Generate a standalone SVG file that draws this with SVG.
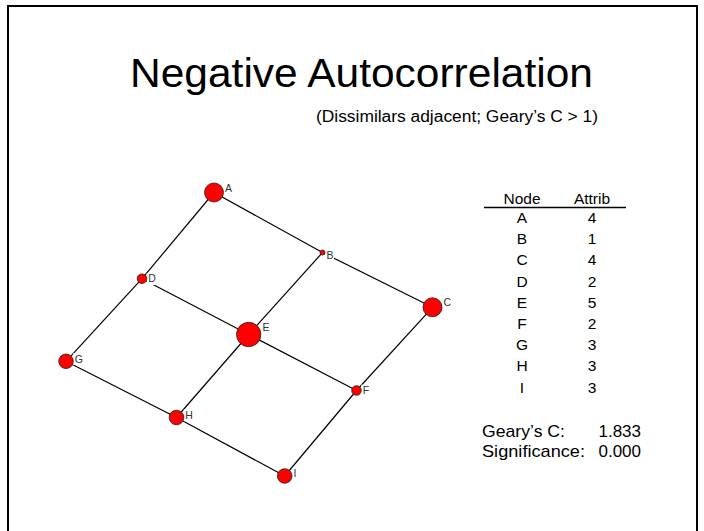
<svg xmlns="http://www.w3.org/2000/svg" width="704" height="531" viewBox="0 0 704 531">
<style>
.txt{font-family:"Liberation Sans",Arial,sans-serif;fill:#000}
.edge{stroke:#000;stroke-width:1.2;fill:none}
.node{fill:#ff0000;stroke:#222;stroke-width:0.8}
.lbl{font-family:"Liberation Sans",Arial,sans-serif;font-size:10.5px;fill:#333}
.lblbg{fill:#fff}
.tbl{font-family:"Liberation Sans",Arial,sans-serif;font-size:15.5px;fill:#000;text-anchor:middle}
.stat{font-family:"Liberation Sans",Arial,sans-serif;font-size:17px;fill:#000}
</style>
<rect x="0" y="0" width="704" height="531" fill="#fff"/>
<rect x="8" y="6" width="689" height="540" fill="none" stroke="#000" stroke-width="2"/>
<text class="txt" x="130" y="87" font-size="41" textLength="463" lengthAdjust="spacingAndGlyphs">Negative Autocorrelation</text>
<text class="txt" x="316" y="122" font-size="16" textLength="282" lengthAdjust="spacingAndGlyphs">(Dissimilars adjacent; Geary’s C &gt; 1)</text>
<g id="connectors">
<line class="edge" x1="214" y1="192.5" x2="322.5" y2="252.5"/>
<line class="edge" x1="322.5" y1="252.5" x2="432.5" y2="307.3"/>
<line class="edge" x1="142" y1="278.7" x2="248.7" y2="334.5"/>
<line class="edge" x1="248.7" y1="334.5" x2="356.5" y2="390.5"/>
<line class="edge" x1="66" y1="361.3" x2="176.5" y2="417.5"/>
<line class="edge" x1="176.5" y1="417.5" x2="284.7" y2="476"/>
<line class="edge" x1="214" y1="192.5" x2="142" y2="278.7"/>
<line class="edge" x1="142" y1="278.7" x2="66" y2="361.3"/>
<line class="edge" x1="322.5" y1="252.5" x2="248.7" y2="334.5"/>
<line class="edge" x1="248.7" y1="334.5" x2="176.5" y2="417.5"/>
<line class="edge" x1="432.5" y1="307.3" x2="356.5" y2="390.5"/>
<line class="edge" x1="356.5" y1="390.5" x2="284.7" y2="476"/>
</g>
<g id="node-A"><rect class="lblbg" x="223.5" y="182" width="9" height="12"/><circle class="node" cx="214" cy="192.5" r="9.5"/><text class="lbl" x="225" y="191.5">A</text></g>
<g id="node-B"><rect class="lblbg" x="325" y="249" width="9" height="12"/><circle class="node" cx="322.5" cy="252.5" r="2.5"/><text class="lbl" x="326.5" y="258.5">B</text></g>
<g id="node-C"><rect class="lblbg" x="442" y="296.8" width="9" height="12"/><circle class="node" cx="432.5" cy="307.3" r="9.5"/><text class="lbl" x="443.5" y="306.3">C</text></g>
<g id="node-D"><rect class="lblbg" x="146.8" y="273" width="9" height="12"/><circle class="node" cx="142" cy="278.7" r="4.8"/><text class="lbl" x="148.3" y="282.4">D</text></g>
<g id="node-E"><rect class="lblbg" x="261" y="321.3" width="9" height="12"/><circle class="node" cx="248.7" cy="334.5" r="12.2"/><text class="lbl" x="262.4" y="330.8">E</text></g>
<g id="node-F"><rect class="lblbg" x="361.3" y="384.7" width="9" height="12"/><circle class="node" cx="356.5" cy="390.5" r="4.8"/><text class="lbl" x="362.8" y="394.2">F</text></g>
<g id="node-G"><rect class="lblbg" x="73.3" y="353" width="9" height="12"/><circle class="node" cx="66" cy="361.3" r="7.3"/><text class="lbl" x="74.8" y="362.5">G</text></g>
<g id="node-H"><rect class="lblbg" x="183.8" y="409.2" width="9" height="12"/><circle class="node" cx="176.5" cy="417.5" r="7.3"/><text class="lbl" x="185.3" y="418.7">H</text></g>
<g id="node-I"><rect class="lblbg" x="292" y="467.7" width="6" height="12"/><circle class="node" cx="284.7" cy="476" r="7.3"/><text class="lbl" x="293.5" y="477.2">I</text></g>
<g id="table">
<text class="tbl" x="522" y="204">Node</text>
<text class="tbl" x="592" y="204">Attrib</text>
<line x1="484" y1="207.5" x2="626" y2="207.5" stroke="#000" stroke-width="1.3"/>
<text class="tbl" x="522" y="223">A</text><text class="tbl" x="592" y="223">4</text>
<text class="tbl" x="522" y="244.2">B</text><text class="tbl" x="592" y="244.2">1</text>
<text class="tbl" x="522" y="265.4">C</text><text class="tbl" x="592" y="265.4">4</text>
<text class="tbl" x="522" y="286.6">D</text><text class="tbl" x="592" y="286.6">2</text>
<text class="tbl" x="522" y="307.8">E</text><text class="tbl" x="592" y="307.8">5</text>
<text class="tbl" x="522" y="329">F</text><text class="tbl" x="592" y="329">2</text>
<text class="tbl" x="522" y="350.2">G</text><text class="tbl" x="592" y="350.2">3</text>
<text class="tbl" x="522" y="371.4">H</text><text class="tbl" x="592" y="371.4">3</text>
<text class="tbl" x="522" y="392.6">I</text><text class="tbl" x="592" y="392.6">3</text>
</g>
<g id="stats">
<text class="stat" x="482" y="437" textLength="83" lengthAdjust="spacingAndGlyphs">Geary’s C:</text>
<text class="stat" x="641" y="437" text-anchor="end">1.833</text>
<text class="stat" x="482" y="457" textLength="103" lengthAdjust="spacingAndGlyphs">Significance:</text>
<text class="stat" x="641" y="457" text-anchor="end">0.000</text>
</g>
</svg>
